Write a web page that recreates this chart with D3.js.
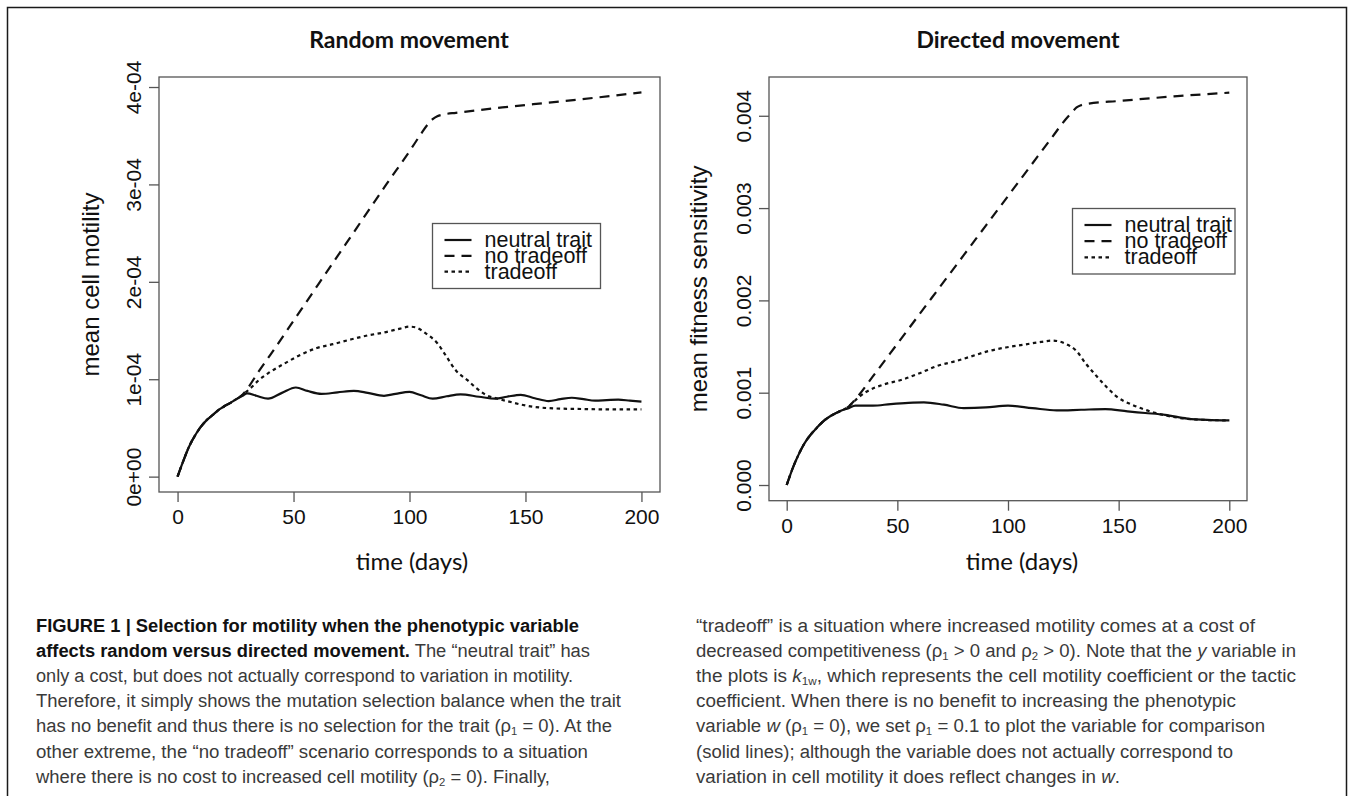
<!DOCTYPE html>
<html>
<head>
<meta charset="utf-8">
<script src="https://cdn.jsdelivr.net/npm/d3@7"></script>
<style>
  html, body { margin: 0; padding: 0; background: #ffffff; }
  svg { display: block; }
</style>
</head>
<body>
<svg id="fig" width="1354" height="796"></svg>
<script>
// ---------- Random movement (values in units of 1e-4) ----------
const randomUnit = 1e-4;
const randomNeutralDays = [0,2,5,8,10,13,15,18,20,23,25,28,30,34,39,45,51,56,62,69,76,82,89,94,100,105,110,116,122,130,137,142,148,154,160,165,170,175,180,185,190,195,200];
const randomNeutral     = [0,0.13,0.31,0.44,0.51,0.59,0.63,0.69,0.72,0.76,0.79,0.83,0.855,0.83,0.80,0.86,0.915,0.88,0.85,0.865,0.88,0.86,0.83,0.85,0.87,0.835,0.80,0.825,0.845,0.82,0.80,0.82,0.84,0.805,0.776,0.795,0.81,0.795,0.78,0.785,0.79,0.78,0.77];
const randomNoTradeDays = [0,2,5,8,10,13,15,18,20,23,25,28,30,35,40,50,60,70,80,90,100,105,108,110,112,115,120,140,160,180,200];
const randomNoTrade     = [0,0.13,0.31,0.44,0.51,0.59,0.63,0.69,0.72,0.76,0.79,0.84,0.90,1.08,1.25,1.60,1.95,2.30,2.65,3.00,3.34,3.52,3.62,3.67,3.70,3.72,3.735,3.79,3.84,3.89,3.945];
const randomTradeDays   = [0,2,5,8,10,13,15,18,20,23,25,28,32,35,39,46,53,60,67,75,82,89,96,100,103,107,112,116,120,125,129,133,138,143,149,156,163,175,189,200];
const randomTrade       = [0,0.13,0.31,0.44,0.51,0.59,0.63,0.69,0.72,0.76,0.79,0.84,0.92,0.99,1.06,1.16,1.25,1.32,1.36,1.41,1.45,1.48,1.52,1.54,1.53,1.47,1.37,1.23,1.09,0.99,0.906,0.838,0.80,0.77,0.735,0.71,0.70,0.694,0.69,0.69];
const randomTickValues  = [0,1,2,3,4];
const randomTickLabels  = ["0e+00","1e-04","2e-04","3e-04","4e-04"];

// ---------- Directed movement (values in units of 1e-3) ----------
const directedUnit = 1e-3;
const directedNeutralDays = [0,3,5,8,10,14,17,20,24,28,31,39,47,55,62,71,80,90,100,111,122,133,144,154,162,171,181,190,200];
const directedNeutral     = [0,0.20,0.31,0.45,0.52,0.63,0.70,0.75,0.80,0.833,0.86,0.86,0.877,0.89,0.895,0.87,0.833,0.84,0.86,0.833,0.808,0.815,0.822,0.797,0.78,0.76,0.72,0.705,0.70];
const directedNoTradeDays = [0,3,5,8,10,14,17,20,24,28,30,40,50,60,70,80,90,100,110,120,126,129,131,133,136,150,175,200];
const directedNoTrade     = [0,0.20,0.31,0.45,0.52,0.63,0.70,0.75,0.80,0.85,0.90,1.21,1.53,1.85,2.17,2.49,2.81,3.13,3.45,3.77,3.96,4.04,4.09,4.115,4.13,4.16,4.21,4.25];
const directedTradeDays   = [0,3,5,8,10,14,17,20,24,28,32,36,44,52,60,68,76,83,91,99,107,115,120,126,131,135,140,145,149,156,162,170,178,187,200];
const directedTrade       = [0,0.20,0.31,0.45,0.52,0.63,0.70,0.75,0.80,0.85,0.94,1.01,1.09,1.14,1.21,1.29,1.34,1.39,1.45,1.49,1.52,1.55,1.565,1.53,1.45,1.32,1.18,1.05,0.96,0.87,0.815,0.76,0.725,0.707,0.70];
const directedTickValues  = [0,1,2,3,4];
const directedTickLabels  = ["0.000","0.001","0.002","0.003","0.004"];

const dayTicks = [0,50,100,150,200];
const seriesNames = ["neutral trait","no tradeoff","tradeoff"];

// ---------- figure ----------
const svg = d3.select("#fig");
svg.append("rect").attr("width",1354).attr("height",796).attr("fill","#ffffff");

// outer frame
svg.append("path")
  .attr("d","M7.5,796 V7.5 H1346.5 V796")
  .attr("fill","none").attr("stroke","#1a1a1a").attr("stroke-width",1.5);

const dashFor = { solid: null, dashed: "10,7", dotted: "3.5,3.5" };
const styles = ["solid","dashed","dotted"];

function drawPanel(p) {
  const g = svg.append("g");
  const x = d3.scaleLinear().domain([-8, 208]).range([p.left, p.right]);
  const ymax = d3.max(p.series, s => d3.max(s.values));
  const y = d3.scaleLinear().domain([-0.04 * ymax, ymax * 1.04]).range([p.bottom, p.top]);

  // title
  g.append("text")
    .attr("x", p.titleX).attr("y", p.titleY)
    .attr("text-anchor","middle")
    .attr("font-family","Lato, 'Open Sans', sans-serif")
    .attr("font-weight",700).attr("font-size",23)
    .attr("fill","#111")
    .text(p.title);

  // x axis
  const xa = g.append("g").attr("transform",`translate(0,${p.bottom})`)
    .call(d3.axisBottom(x).tickValues(dayTicks).tickSize(10).tickPadding(7).tickFormat(d3.format("d")));
  xa.select(".domain").remove();
  xa.selectAll("line").attr("stroke","#555").attr("stroke-width",1.3);
  xa.selectAll("text").attr("font-family","'Liberation Sans', Arial, sans-serif")
    .attr("font-size",21).attr("fill","#111");

  // y axis (labels parallel to the axis)
  const ya = g.append("g").attr("transform",`translate(${p.left},0)`)
    .call(d3.axisLeft(y).tickValues(p.tickValues).tickSize(10)
      .tickFormat((d,i) => p.tickLabels[i]));
  ya.select(".domain").remove();
  ya.selectAll("line").attr("stroke","#555").attr("stroke-width",1.3);
  ya.selectAll("text")
    .attr("x",null).attr("dy",null)
    .attr("text-anchor","middle")
    .attr("transform","translate(-18,0) rotate(-90)")
    .attr("font-family","'Liberation Sans', Arial, sans-serif")
    .attr("font-size",21).attr("fill","#111");

  // plot box
  g.append("rect")
    .attr("x",p.left).attr("y",p.top)
    .attr("width",p.right-p.left).attr("height",p.bottom-p.top)
    .attr("fill","none").attr("stroke","#555").attr("stroke-width",1.3);

  // axis titles
  g.append("text")
    .attr("transform",`translate(${p.ylabX},${(p.top+p.bottom)/2}) rotate(-90)`)
    .attr("text-anchor","middle")
    .attr("font-family","'Liberation Sans', Arial, sans-serif")
    .attr("font-size",24).attr("fill","#111")
    .text(p.ylab);
  g.append("text")
    .attr("x",p.xlabX).attr("y",p.xlabY)
    .attr("text-anchor","middle")
    .attr("font-family","Lato, 'Open Sans', sans-serif")
    .attr("font-size",24).attr("fill","#111")
    .text("time (days)");

  // curves
  const line = d3.line().curve(d3.curveMonotoneX)
    .x(d => x(d[0])).y(d => y(d[1]));
  p.series.forEach((s, i) => {
    const pts = s.days.map((d, k) => [d, s.values[k]]);
    g.append("path")
      .attr("d", line(pts))
      .attr("fill","none").attr("stroke","#111").attr("stroke-width",2.2)
      .attr("stroke-dasharray", dashFor[styles[i]]);
  });

  // legend
  const L = p.legend;
  g.append("rect").attr("x",L.x).attr("y",L.y).attr("width",L.w).attr("height",L.h)
    .attr("fill","#fff").attr("stroke","#555").attr("stroke-width",1.3);
  seriesNames.forEach((name, i) => {
    const ly = L.y + L.first + i * L.step;
    g.append("line").attr("x1",L.x+12).attr("x2",L.x+39).attr("y1",ly).attr("y2",ly)
      .attr("stroke","#111").attr("stroke-width",2.2)
      .attr("stroke-dasharray", dashFor[styles[i]]);
    g.append("text").attr("x",L.x+52).attr("y",ly).attr("dy","0.33em")
      .attr("font-family","'Liberation Sans', Arial, sans-serif")
      .attr("font-size",21.5).attr("fill","#111")
      .text(name);
  });
}

drawPanel({
  title: "Random movement", titleX: 409, titleY: 48,
  left: 159, right: 660, top: 77, bottom: 492,
  tickValues: randomTickValues, tickLabels: randomTickLabels,
  ylab: "mean cell motility", ylabX: 99, xlabX: 412, xlabY: 570,
  legend: { x: 432.5, y: 223.5, w: 168, h: 65, first: 16.5, step: 15.8 },
  series: [
    { days: randomNeutralDays, values: randomNeutral },
    { days: randomNoTradeDays, values: randomNoTrade },
    { days: randomTradeDays,   values: randomTrade }
  ]
});

drawPanel({
  title: "Directed movement", titleX: 1018, titleY: 48,
  left: 769, right: 1247, top: 77, bottom: 500.7,
  tickValues: directedTickValues, tickLabels: directedTickLabels,
  ylab: "mean fitness sensitivity", ylabX: 707, xlabX: 1022, xlabY: 570,
  legend: { x: 1072.5, y: 208.5, w: 162.5, h: 65.5, first: 16.5, step: 16.2 },
  series: [
    { days: directedNeutralDays, values: directedNeutral },
    { days: directedNoTradeDays, values: directedNoTrade },
    { days: directedTradeDays,   values: directedTrade }
  ]
});

// ---------- caption ----------
const captionLeft = [
  [["FIGURE 1 | Selection for motility when the phenotypic variable","b"]],
  [["affects random versus directed movement.","b"],[" The “neutral trait” has",""]],
  [["only a cost, but does not actually correspond to variation in motility.",""]],
  [["Therefore, it simply shows the mutation selection balance when the trait",""]],
  [["has no benefit and thus there is no selection for the trait (ρ",""],["1","s"],[" = 0). At the",""]],
  [["other extreme, the “no tradeoff” scenario corresponds to a situation",""]],
  [["where there is no cost to increased cell motility (ρ",""],["2","s"],[" = 0). Finally,",""]]
];
const captionRight = [
  [["“tradeoff” is a situation where increased motility comes at a cost of",""]],
  [["decreased competitiveness (ρ",""],["1","s"],[" > 0 and ρ",""],["2","s"],[" > 0). Note that the ",""],["y","i"],[" variable in",""]],
  [["the plots is ",""],["k","i"],["1w","s"],[", which represents the cell motility coefficient or the tactic",""]],
  [["coefficient. When there is no benefit to increasing the phenotypic",""]],
  [["variable ",""],["w","i"],[" (ρ",""],["1","s"],[" = 0), we set ρ",""],["1","s"],[" = 0.1 to plot the variable for comparison",""]],
  [["(solid lines); although the variable does not actually correspond to",""]],
  [["variation in cell motility it does reflect changes in ",""],["w","i"],[".",""]]
];
const captionLeftWidths  = [543,554,537,585,576,552,514];
const captionRightWidths = [559,600,600,540,569,537,424];
const captionBaselines   = [632,657,682,707,732,758,783];

function drawCaption(lines, widths, x0) {
  lines.forEach((segs, li) => {
    const t = svg.append("text")
      .attr("x", x0).attr("y", captionBaselines[li])
      .attr("font-family","'Liberation Sans', Arial, sans-serif")
      .attr("font-size",18)
      .attr("textLength", widths[li])
      .attr("lengthAdjust","spacingAndGlyphs")
      .attr("fill","#3a3a3a");
    let shifted = false;
    segs.forEach(([txt, f]) => {
      const s = t.append("tspan").text(txt);
      if (f.includes("b")) s.attr("font-weight",700).attr("fill","#111");
      if (f.includes("i")) s.attr("font-style","italic");
      if (f.includes("s")) {
        s.attr("font-size",11);
        if (!shifted) { s.attr("dy",3); shifted = true; }
      } else if (shifted) {
        s.attr("dy",-3); shifted = false;
      }
    });
  });
}
drawCaption(captionLeft, captionLeftWidths, 36);
drawCaption(captionRight, captionRightWidths, 696);
</script>
</body>
</html>
